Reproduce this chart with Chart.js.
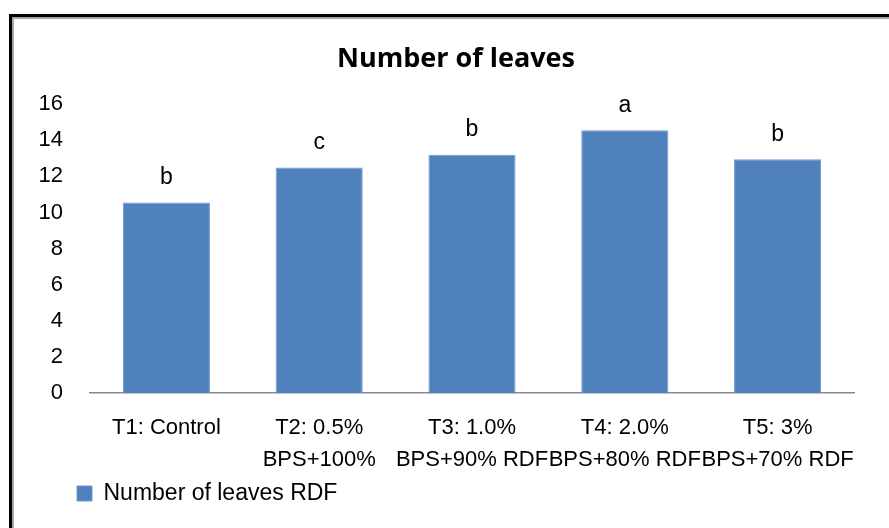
<!DOCTYPE html>
<html>
<head>
<meta charset="utf-8">
<script src="https://cdn.jsdelivr.net/npm/chart.js@4"></script>
<style>
  html, body { margin: 0; padding: 0; background: #fff; }
  body { width: 889px; height: 528px; position: relative; overflow: hidden; }
  .frame {
    position: absolute; left: 9px; top: 14px; width: 900px; height: 540px;
    border-top: 3px solid #000; border-left: 3px solid #000;
    box-shadow: inset 2px 2px 0 #a6a6a6;
  }
  .wrap { position: absolute; left: 0; top: 0; width: 889px; height: 528px; }
</style>
</head>
<body>
<div class="frame"></div>
<div class="wrap"><canvas id="chart" width="889" height="528"></canvas></div>
<script>
const categories = [
  ['T1: Control'],
  ['T2: 0.5%', 'BPS+100%'],
  ['T3: 1.0%', 'BPS+90% RDF'],
  ['T4: 2.0%', 'BPS+80% RDF'],
  ['T5: 3%', 'BPS+70% RDF']
];
const leaves = [10.55, 12.5, 13.2, 14.55, 12.95];
const letters = ['b', 'c', 'b', 'a', 'b'];
const yMax = 16;
const yStep = 2;

const baseFont = 'Liberation Sans, Arial, sans-serif';

// draws the significance letters over each bar
const letterPlugin = {
  id: 'letters',
  afterDatasetsDraw(chart) {
    const ctx = chart.ctx;
    const meta = chart.getDatasetMeta(0);
    ctx.save();
    ctx.font = '23px ' + baseFont;
    ctx.fillStyle = '#000';
    ctx.textAlign = 'center';
    ctx.textBaseline = 'middle';
    meta.data.forEach((bar, i) => {
      ctx.fillText(letters[i], bar.x, bar.y - 25);
    });
    ctx.restore();
  }
};

// nudge legend and title sideways, Excel puts them off the canvas centre
const boxShift = {
  id: 'boxShift',
  afterLayout(chart) {
    if (chart.legend) chart.legend.left += 42;
    if (chart.titleBlock) chart.titleBlock.left += 28;
  }
};

new Chart(document.getElementById('chart'), {
  type: 'bar',
  data: {
    labels: categories,
    datasets: [{
      label: 'Number of leaves RDF',
      data: leaves,
      backgroundColor: '#4F81BD',
      borderColor: '#7198cc',
      borderWidth: 1,
      barPercentage: 0.57,
      categoryPercentage: 1
    }]
  },
  options: {
    responsive: false,
    animation: false,
    layout: { padding: { left: 30, right: 35, top: 20, bottom: 13 } },
    plugins: {
      title: {
        display: true,
        text: 'Number of leaves',
        color: '#000',
        font: { family: 'Open Sans', size: 27, weight: 'bold' },
        padding: { top: 23, bottom: 28.8 }
      },
      legend: {
        position: 'bottom',
        align: 'start',
        labels: {
          boxWidth: 15,
          boxHeight: 15,
          padding: 5,
          color: '#000',
          font: { family: baseFont, size: 23 }
        }
      },
      tooltip: { enabled: false }
    },
    scales: {
      x: {
        afterFit(scale) { scale.height = 84; },
        grid: { display: false, drawTicks: false },
        border: { display: true, color: '#8a8a8a', width: 1.5 },
        ticks: {
          color: '#000',
          font: { family: baseFont, size: 22, lineHeight: 1.46 },
          padding: 19,
          maxRotation: 0,
          autoSkip: false
        }
      },
      y: {
        min: 0,
        max: yMax,
        afterFit(scale) { scale.width = 60; },
        grid: { display: false, drawTicks: false },
        border: { display: false },
        ticks: {
          stepSize: yStep,
          color: '#000',
          font: { family: baseFont, size: 22 },
          padding: 27
        }
      }
    }
  },
  plugins: [letterPlugin, boxShift]
});
</script>
</body>
</html>
